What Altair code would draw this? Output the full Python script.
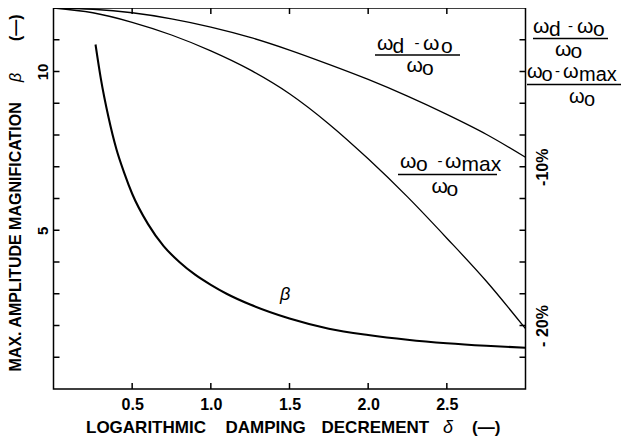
import altair as alt
import pandas as pd

# ---------------- data ----------------
delta_grid = [0.0, 0.25, 0.5, 0.75, 1.0, 1.25, 1.5, 1.75, 2.0, 2.25, 2.5, 2.75, 3.0]
omega_d_pct = [0.0, -0.08, -0.3, -0.68, -1.2, -1.85, -2.65, -3.55, -4.5, -5.55, -6.7, -7.95, -9.4]
omega_max_pct = [0.0, -0.3, -0.9, -1.7, -2.7, -3.9, -5.4, -7.3, -9.5, -11.9, -14.5, -17.2, -20.2]

delta_beta = [0.267, 0.3, 0.35, 0.4, 0.45, 0.5, 0.6, 0.7, 0.8, 0.9, 1.0, 1.1, 1.25,
              1.5, 1.75, 2.0, 2.25, 2.5, 2.75, 3.0]
beta_values = [10.85, 9.8, 8.55, 7.55, 6.8, 6.15, 5.2, 4.5, 4.0, 3.6, 3.28, 3.0, 2.66,
               2.22, 1.9, 1.7, 1.55, 1.44, 1.36, 1.3]

x_ticks = [0.5, 1.0, 1.5, 2.0, 2.5]
beta_ticks = [1, 2, 3, 4, 5, 6, 7, 8, 9, 10, 11]
pct_ticks = [-2, -4, -6, -8, -10, -12, -14, -16, -18, -20, -22]

# ---------------- layout ----------------
W, H = 472, 381          # plot area
X0, Y0 = 53.5, 8         # plot origin on the page
DMAX, BMAX = 3.0, 12.0
TICK = 6                 # inward tick length in px


def to_d(xp):
    return (xp - X0) / W * DMAX


def to_b(yp):
    return (Y0 + H - yp) / H * BMAX


x_scale = alt.Scale(domain=[0, DMAX], nice=False, zero=False)
b_scale = alt.Scale(domain=[0, BMAX], nice=False, zero=False)
p_scale = alt.Scale(domain=[-24, 0], nice=False, zero=False)

LBL = dict(labelFont="Liberation Sans", labelFontWeight="bold", labelColor="black",
           domain=False, grid=False, title=None, tickOpacity=0, labelOverlap=False)

beta_df = pd.DataFrame({"delta": delta_beta, "beta": beta_values})
freq_df = pd.DataFrame({
    "delta": delta_grid + delta_grid,
    "pct": omega_d_pct + omega_max_pct,
    "series": ["wd"] * len(delta_grid) + ["wmax"] * len(delta_grid),
})

beta_line = alt.Chart(beta_df).mark_line(color="black", strokeWidth=2.1, interpolate="monotone").encode(
    x=alt.X("delta:Q", scale=x_scale,
            axis=alt.Axis(orient="bottom", values=x_ticks, format=".1f", offset=-5, tickSize=5,
                          labelFontSize=16, labelPadding=7, **LBL)),
    y=alt.Y("beta:Q", scale=b_scale,
            axis=alt.Axis(orient="left", values=beta_ticks, offset=-5, tickSize=5,
                          labelExpr="datum.value == 5 || datum.value == 10 ? datum.label : ''",
                          labelAngle=270, labelAlign="center", labelBaseline="alphabetic",
                          labelFontSize=15, labelPadding=6.5, **LBL)),
)

freq_lines = alt.Chart(freq_df).mark_line(color="black", strokeWidth=1.3, interpolate="monotone").encode(
    x=alt.X("delta:Q", scale=x_scale, axis=None),
    y=alt.Y("pct:Q", scale=p_scale,
            axis=alt.Axis(orient="right", values=pct_ticks, offset=-5, tickSize=5,
                          labelExpr="datum.value == -10 ? '-10%' : datum.value == -20 ? '-\u00a020%' : ''",
                          labelAngle=270, labelAlign="center", labelBaseline="top",
                          labelFontSize=16, labelPadding=8.5, **LBL)),
    detail="series:N",
)

# ---------------- inward ticks on all four sides ----------------
dx_tick = TICK / W * DMAX
db_tick = TICK / H * BMAX
side_ticks = pd.DataFrame({
    "d1": [0.0] * len(beta_ticks) + [DMAX - dx_tick] * len(beta_ticks),
    "d2": [dx_tick] * len(beta_ticks) + [DMAX] * len(beta_ticks),
    "b": beta_ticks + beta_ticks,
})
tb_ticks = pd.DataFrame({
    "d": x_ticks + x_ticks,
    "b1": [0.0] * len(x_ticks) + [BMAX - db_tick] * len(x_ticks),
    "b2": [db_tick] * len(x_ticks) + [BMAX] * len(x_ticks),
})
side_tick_layer = alt.Chart(side_ticks).mark_rule(color="black", strokeWidth=1.5).encode(
    x=alt.X("d1:Q", scale=x_scale, axis=None), x2="d2:Q",
    y=alt.Y("b:Q", scale=b_scale, axis=None),
)
tb_tick_layer = alt.Chart(tb_ticks).mark_rule(color="black", strokeWidth=1.5).encode(
    x=alt.X("d:Q", scale=x_scale, axis=None),
    y=alt.Y("b1:Q", scale=b_scale, axis=None), y2="b2:Q",
)

# ---------------- annotations ----------------
omega_pieces = [
    # (omega_d - omega_0)/omega_0 inside the plot
    ("ω", 377, 50), ("d", 392.5, 52.5), ("ω", 423, 50), ("o", 441, 53),
    ("ω", 406.5, 72), ("o", 422, 75),
    # (omega_0 - omega_max)/omega_0 inside the plot
    ("ω", 400, 168), ("o", 416, 170.5), ("ω", 445, 168), ("max", 461.5, 170.5),
    ("ω", 431.5, 193), ("o", 446.5, 196),
    # right-hand legend, first fraction
    ("ω", 533, 33), ("d", 549, 35.5), ("ω", 577, 33), ("o", 593, 36),
    ("ω", 555, 55.5), ("o", 570.5, 58),
]
legend2_pieces = [
    ("ω", 527, 78), ("o", 541.5, 80.5), ("ω", 563, 78), ("max", 579, 80.5),
    ("ω", 569, 103), ("o", 584, 106),
]
dash_pieces = [("-", 414.5, 47.5), ("-", 437.5, 165.5), ("-", 568, 30.5), ("-", 555, 75.5)]
bars = [(375, 460, 55), (398, 497, 174.5), (533, 608, 38.5), (527, 621, 84.5)]


def text_df(items):
    return pd.DataFrame({"t": [i[0] for i in items],
                         "d": [to_d(i[1]) for i in items],
                         "b": [to_b(i[2]) for i in items]})


def text_layer(items, **props):
    base = dict(align="left", baseline="alphabetic", font="Liberation Sans", color="black")
    base.update(props)
    return alt.Chart(text_df(items)).mark_text(**base).encode(
        x=alt.X("d:Q", scale=x_scale, axis=None),
        y=alt.Y("b:Q", scale=b_scale, axis=None),
        text="t:N",
    )


bar_df = pd.DataFrame({"d1": [to_d(b[0]) for b in bars], "d2": [to_d(b[1]) for b in bars],
                       "b": [to_b(b[2]) for b in bars]})
bar_layer = alt.Chart(bar_df).mark_rule(color="black", strokeWidth=1.4).encode(
    x=alt.X("d1:Q", scale=x_scale, axis=None), x2="d2:Q",
    y=alt.Y("b:Q", scale=b_scale, axis=None),
)

omega_layer = text_layer(omega_pieces, fontSize=21)
legend2_layer = text_layer(legend2_pieces, fontSize=20)
dash_layer = text_layer(dash_pieces, fontSize=15)
beta_label = text_layer([("β", 280, 300)], fontSize=18, fontStyle="italic")

x_title_bold = text_layer([("LOGARITHMIC", 86, 433), ("DAMPING", 225.5, 433),
                           ("DECREMENT", 321.5, 433), ("(—)", 472, 433)],
                          fontSize=17, fontWeight="bold")
x_title_delta = text_layer([("δ", 443, 433)], fontSize=18, fontStyle="italic")

y_title_bold = text_layer([("MAX. AMPLITUDE MAGNIFICATION", 21, 371.5), ("(—)", 21, 41)],
                          fontSize=16, fontWeight="bold", angle=270)
y_title_beta = text_layer([("β", 21, 82)], fontSize=16, fontStyle="italic", angle=270)

chart = alt.layer(
    beta_line, freq_lines, side_tick_layer, tb_tick_layer, bar_layer, omega_layer, legend2_layer,
    dash_layer, beta_label, x_title_bold, x_title_delta, y_title_bold, y_title_beta,
).resolve_scale(y="independent").resolve_axis(x="independent", y="independent").properties(
    width=W, height=H,
    autosize=alt.AutoSizeParams(type="none"),
    padding={"left": 45.5, "top": 0, "right": 96.5, "bottom": 48},
    background="white",
).configure_view(stroke="black", strokeWidth=1.5)

chart.save("out.html", embed_options={"renderer": "svg", "actions": False})
